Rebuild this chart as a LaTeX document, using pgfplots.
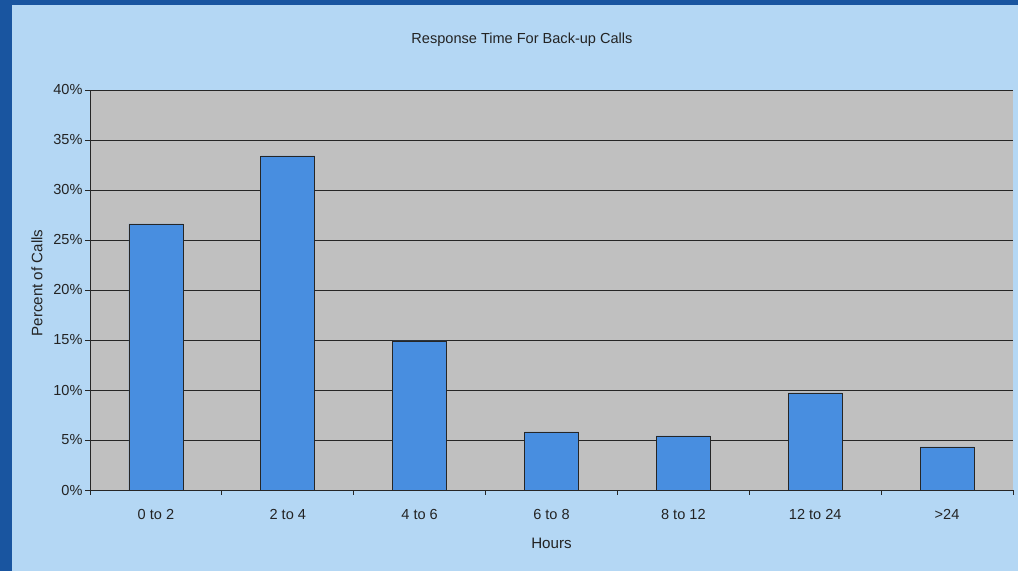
\documentclass[border=0pt]{standalone}
\usepackage{pgfplots}
\pgfplotsset{compat=1.18}
\usepackage{fontspec}
\setmainfont{Liberation Sans}
\definecolor{bgblue}{RGB}{180,215,244}
\definecolor{darkband}{RGB}{25,85,160}
\definecolor{plotgray}{RGB}{192,192,192}
\definecolor{barblue}{RGB}{72,142,224}
\definecolor{txt}{RGB}{35,35,35}
\begin{document}
\begin{tikzpicture}[x=1bp,y=1bp]
\fill[bgblue] (0,0) rectangle (1018,571);
\fill[darkband] (0,0) rectangle (12,571);
\fill[darkband] (0,566) rectangle (1018,571);
\begin{axis}[
  at={(90bp,81bp)}, anchor=south west,
  scale only axis, width=923bp, height=400bp,
  xmin=-0.5, xmax=6.5, ymin=0, ymax=40,
  axis x line*=bottom, axis y line*=left,
  axis line style={black!85, line width=0.8pt},
  axis background/.style={fill=plotgray},
  ytick={0,5,...,40},
  yticklabel={\pgfmathprintnumber{\tick}\%},
  xtick={-0.5,0.5,...,6.5},
  x tick label as interval,
  xticklabels={0 to 2,2 to 4,4 to 6,6 to 8,8 to 12,12 to 24,>24},
  tick align=outside, major tick length=5bp,
  tick style={black!85, line width=0.8pt},
  ymajorgrids, grid style={black!85, line width=0.7pt},
  /pgf/number format/assume math mode=true,
  tick label style={font=\fontsize{14.6}{16}\selectfont, text=txt},
  label style={font=\fontsize{15.2}{17}\selectfont, text=txt},
  xticklabel style={yshift=-11bp},
  yticklabel style={xshift=1bp},
  xlabel={Hours}, ylabel={Percent of Calls},
  xlabel style={at={(axis description cs:0.5,-0.1325)}, anchor=center},
  ylabel style={at={(axis description cs:-0.0574,0.5175)}, anchor=center},
  title={Response Time For Back-up Calls},
  title style={font=\fontsize{14.6}{16}\selectfont, text=txt,
    at={(axis description cs:0.468,1.11)}, anchor=center},
  ybar, bar width=54bp,
  clip=false,
]
\addplot[fill=barblue, draw=black!85, line width=0.8pt] coordinates {
  (0,26.6) (1,33.4) (2,14.9) (3,5.8) (4,5.4) (5,9.7) (6,4.3)
};
\end{axis}
\end{tikzpicture}
\end{document}
